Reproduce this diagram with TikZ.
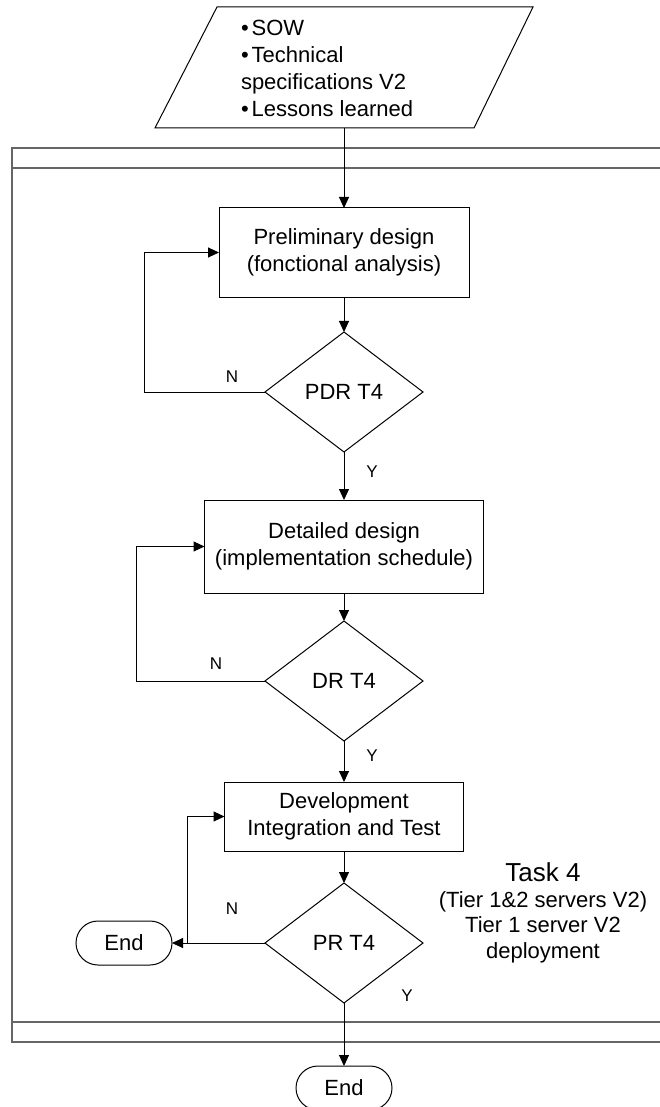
\documentclass[tikz,border=0pt]{standalone}
\usepackage{fontspec}
\setmainfont{Liberation Sans}
\usetikzlibrary{arrows.meta, positioning, shapes.geometric}

\begin{document}
\begin{tikzpicture}[x=1pt, y=-1pt, >={Triangle[length=11pt, width=10pt]},
    font=\fontsize{22}{27}\selectfont, line width=1pt, outer sep=0pt,
    box/.style={draw, rectangle, align=center, inner sep=0pt},
    decision/.style={draw, diamond, minimum width=158pt, minimum height=120pt,
                     inner sep=0pt},
    terminal/.style={draw, rectangle, rounded corners=22pt, minimum width=96pt,
                     minimum height=44pt, inner sep=0pt},
    yn/.style={font=\fontsize{17}{17}\selectfont, inner sep=0pt},
    frame/.style={draw=black!60, line width=1.6pt}]
  \useasboundingbox (0,0) rectangle (660,1107);

  % task frame
  \draw[frame] (670,148) -- (12,148) -- (12,1042) -- (670,1042);
  \draw[frame] (12,168) -- (670,168);
  \draw[frame] (12,1022) -- (670,1022);

  % inputs
  \draw (217,7) -- (533,7) -- (474,128) -- (155,128) -- cycle;
  \coordinate (inputs) at (344,128);
  \node[anchor=west, align=left, inner sep=0pt] (inputtext) at (241,68.5)
    {\textbullet\hspace{3pt}SOW\\ \textbullet\hspace{3pt}Technical\\
     specifications V2\\ \textbullet\hspace{3pt}Lessons learned};

  % main column
  \node[box, minimum width=250pt, minimum height=89pt] (prelim) at (344,252.5)
    {Preliminary design\\(fonctional analysis)};
  \node[decision, below=35pt of prelim] (pdr) {PDR T4};
  \node[box, minimum width=279pt, minimum height=93pt, below=48pt of pdr] (detailed)
    {Detailed design\\(implementation schedule)};
  \node[decision, below=28pt of detailed] (dr) {DR T4};
  \node[box, minimum width=239pt, minimum height=69pt, below=41pt of dr] (dev)
    {Development\\Integration and Test};
  \node[decision, below=32pt of dev] (pr) {PR T4};
  \node[terminal, below=63pt of pr] (endB) {End};
  \node[terminal, left=93pt of pr] (endA) {End};

  \draw[->] (inputs) -- (prelim.north);
  \draw[->] (prelim) -- (pdr);
  \draw[->] (pdr) -- (detailed);
  \draw[->] (detailed) -- (dr);
  \draw[->] (dr) -- (dev);
  \draw[->] (dev) -- (pr);
  \draw[->] (pr) -- (endB);

  % loops back
  \draw[->] (pdr.west) -- ++(-121,0) |- (prelim.west);
  \draw[->] (dr.west) -- ++(-129,0) |- (detailed.west);
  \draw[->] (pr.west) -- ++(-78,0) |- (dev.west);
  \draw[->] (pr.west) -- (endA.east);

  \node[yn] (pdrno) at ([xshift=-33pt, yshift=15pt]pdr.west) {N};
  \node[yn] (drno) at ([xshift=-49pt, yshift=17pt]dr.west) {N};
  \node[yn] (prno) at ([xshift=-33pt, yshift=34pt]pr.west) {N};
  \node[yn] (pdryes) at ([xshift=28pt, yshift=-20pt]pdr.south) {Y};
  \node[yn] (dryes) at ([xshift=28pt, yshift=-15pt]dr.south) {Y};
  \node[yn] (pryes) at ([xshift=63pt, yshift=7pt]pr.south) {Y};

  \node[align=center, inner sep=0pt, font=\fontsize{22}{25.5}\selectfont] (task)
    at (543,913) {{\fontsize{26}{30}\selectfont Task 4}\\(Tier 1\&2 servers V2)\\
    Tier 1 server V2\\deployment};
\end{tikzpicture}
\end{document}
